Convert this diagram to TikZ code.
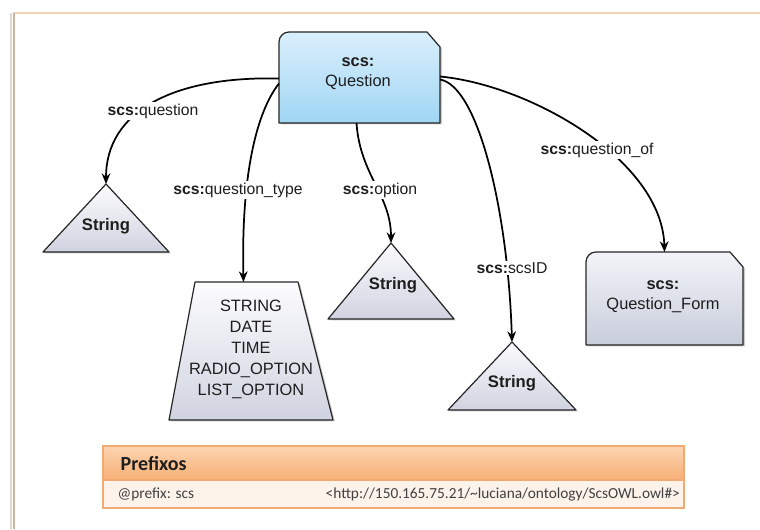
\documentclass[tikz,border=0pt]{standalone}
\usepackage{fontspec}
\setmainfont{Liberation Sans}
\newfontfamily\tablefont{Carlito}
\usetikzlibrary{arrows.meta,backgrounds,shadows,calc}

% palette
\definecolor{qtop}{RGB}{218,239,252}
\definecolor{qbot}{RGB}{160,214,243}
\definecolor{ftop}{RGB}{242,244,248}
\definecolor{fbot}{RGB}{200,205,219}
\definecolor{stop}{RGB}{252,252,254}
\definecolor{sbot}{RGB}{208,211,224}
\definecolor{hdtop}{RGB}{252,212,176}
\definecolor{hdbot}{RGB}{247,176,118}
\definecolor{rowfill}{RGB}{253,243,235}
\definecolor{tblline}{RGB}{240,170,115}
\definecolor{frameleft}{RGB}{200,178,160}
\definecolor{frametop}{RGB}{244,214,182}
\definecolor{ink}{RGB}{30,30,30}

\tikzset{
  holder/.style={draw=none, inner sep=0pt, outer sep=0pt},
  outline/.style={draw=black!85, line width=0.9pt, line join=round},
  softshadow/.style={drop shadow={shadow xshift=1.5pt, shadow yshift=-1.1pt, opacity=0.28, fill=black!70}},
  classtext/.style={align=center, text=ink, font=\fontsize{12.3}{15}\selectfont},
  littext/.style={text=ink, font=\fontsize{12.5}{15.75}\selectfont\bfseries},
  enumtext/.style={align=center, text=ink, font=\fontsize{12.3}{15.75}\selectfont},
  prop/.style={fill=white, inner sep=1.2pt, text=ink, font=\fontsize{11.8}{14}\selectfont},
  rel/.style={line width=1.3pt, -{Stealth[length=8pt,width=6.5pt]}},
}

\begin{document}
\begin{tikzpicture}[x=0.75pt, y=-0.75pt]
\useasboundingbox (0,0) rectangle (760,529);

% shape holders (named nodes)
\node[holder, minimum width=161*0.75pt, minimum height=91*0.75pt] (q) at (359.5,77.5) {};
\node[holder, minimum width=157*0.75pt, minimum height=93*0.75pt] (qf) at (664.5,298.5) {};
\node[holder, minimum width=126*0.75pt, minimum height=68*0.75pt] (t1) at (106,218) {};
\node[holder, minimum width=126*0.75pt, minimum height=76*0.75pt] (t2) at (391,281) {};
\node[holder, minimum width=128*0.75pt, minimum height=68*0.75pt] (t3) at (512,376) {};
\node[holder, minimum width=161*0.75pt, minimum height=138*0.75pt] (tz) at (252.5,351) {};

% page and shapes
\begin{scope}[on background layer]
  \fill[white] (0,0) rectangle (760,529);
  % page frame
  \draw[frametop, line width=1pt] (13,13) -- (760,13);
  \draw[frameleft!50, line width=2pt] (11,13) -- (11,529);
  \draw[frameleft, line width=1.6pt] (14,13) -- (14,529);
  % scs:Question
  \path[outline, top color=qtop, bottom color=qbot, softshadow]
    (q.south west) -- ([yshift=-10*0.75pt]q.north west)
    to[out=90,in=180] ([xshift=10*0.75pt]q.north west)
    -- ([xshift=-13*0.75pt]q.north east) -- ([yshift=-15*0.75pt]q.north east)
    -- (q.south east) -- cycle;
  % scs:Question_Form
  \path[outline, top color=ftop, bottom color=fbot, softshadow]
    (qf.south west) -- ([yshift=-10*0.75pt]qf.north west)
    to[out=90,in=180] ([xshift=10*0.75pt]qf.north west)
    -- ([xshift=-13*0.75pt]qf.north east) -- ([yshift=-15*0.75pt]qf.north east)
    -- (qf.south east) -- cycle;
  % literal triangles
  \foreach \t in {t1,t2,t3}{
    \path[outline, top color=stop, bottom color=sbot, softshadow]
      (\t.south west) -- (\t.north) -- (\t.south east) -- cycle;
  }
  % enumeration trapezoid
  \path[outline, top color=stop, bottom color=sbot, softshadow]
    ([xshift=-3*0.75pt]tz.south west) -- ([xshift=23*0.75pt]tz.north west)
    -- ([xshift=-35*0.75pt]tz.north east) -- (tz.south east) -- cycle;
\end{scope}

% texts
\node[classtext] (qtxt) at (358,74) {\textbf{scs:}\\Question};
\node[classtext] (qftxt) at (663,297) {\textbf{scs:}\\Question\_Form};
\node[littext] (s1) at (106,226) {String};
\node[littext] (s2) at (393,285) {String};
\node[littext] (s3) at (512,383) {String};
\node[enumtext] (enum) at (251,349) {STRING\\DATE\\TIME\\RADIO\_OPTION\\LIST\_OPTION};

% properties
\draw[rel] ([yshift=-1*0.75pt]q.west) .. controls (172,76) and (106,112) .. (t1.north);
\draw[rel] ([yshift=-6*0.75pt]q.west) .. controls (258,110) and (241,170) .. ([xshift=-9*0.75pt]tz.north);
\draw[rel] ([xshift=-3*0.75pt]q.south) .. controls (360,175) and (391,195) .. (t2.north);
\draw[rel] ([yshift=-2*0.75pt]q.east) .. controls (478,86) and (508,210) .. (t3.north);
\draw[rel] ([yshift=1*0.75pt]q.east) .. controls (530,85) and (662,160) .. (qf.north);

% property labels
\node[prop] (pq) at (153,111) {\textbf{scs:}question};
\node[prop] (pqt) at (238,190) {\textbf{scs:}question\_type};
\node[prop] (po) at (380,190) {\textbf{scs:}option};
\node[prop] (pid) at (512,268) {\textbf{scs:}scsID};
\node[prop] (pof) at (597,150) {\textbf{scs:}question\_of};

% prefix table
\node[holder, minimum width=581*0.75pt, minimum height=34*0.75pt, anchor=north west] (hd) at (103,446) {};
\node[holder, minimum width=581*0.75pt, minimum height=28*0.75pt, anchor=north west] (row) at (103,480) {};
\path[top color=hdtop, bottom color=hdbot, draw=tblline, line width=0.8pt] (hd.south west) rectangle (hd.north east);
\path[fill=rowfill, draw=tblline, line width=0.8pt] (row.south west) rectangle (row.north east);
\node[anchor=west, text=ink, font=\tablefont\fontsize{15}{18}\selectfont\bfseries] (hdtxt) at (116,464) {Prefixos};
\node[anchor=west, text=ink!85, font=\tablefont\fontsize{11.5}{14}\selectfont] (pfx) at (113,494) {@prefix: scs};
\node[anchor=west, text=ink!85, font=\tablefont\fontsize{11.5}{14}\selectfont] (uri) at (321,494) {<http://150.165.75.21/\textasciitilde luciana/ontology/ScsOWL.owl\#>};
\end{tikzpicture}
\end{document}
